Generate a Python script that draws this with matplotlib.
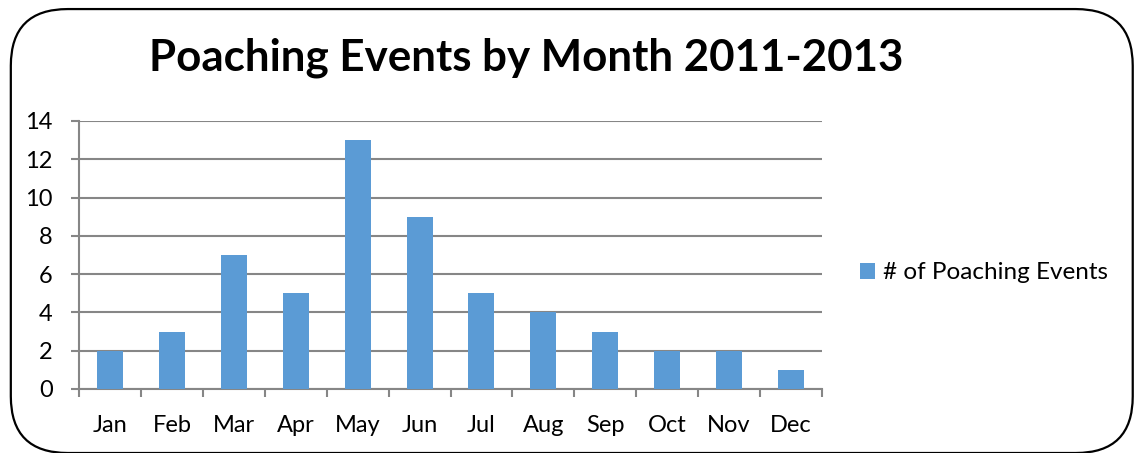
import matplotlib.pyplot as plt
from matplotlib.patches import FancyBboxPatch
import numpy as np

# data
months = ["Jan", "Feb", "Mar", "Apr", "May", "Jun",
          "Jul", "Aug", "Sep", "Oct", "Nov", "Dec"]
events = [2, 3, 7, 5, 13, 9, 5, 4, 3, 2, 2, 1]
y_ticks = [0, 2, 4, 6, 8, 10, 12, 14]

BAR_COLOR = "#5B9BD5"
GRID_COLOR = "#868686"

plt.rcParams["font.family"] = ["Lato", "DejaVu Sans"]

fig = plt.figure(figsize=(11.39, 4.53), dpi=100)

# rounded chart-area border
border = FancyBboxPatch((0.0095, 0.0), 0.985, 0.98,
                        boxstyle="round,pad=0,rounding_size=0.05",
                        transform=fig.transFigure, fill=False,
                        edgecolor="black", linewidth=1.6, mutation_aspect=2.5)
fig.patches.append(border)

ax = fig.add_axes([0.0694, 0.1413, 0.6523, 0.5916])
x = np.arange(len(months))
ax.bar(x, events, width=0.42, color=BAR_COLOR, label="# of Poaching Events", zorder=3)

ax.set_xlim(-0.5, len(months) - 0.5)
ax.set_ylim(0, 14)
ax.set_yticks(y_ticks)
ax.set_xticks(x)
ax.set_xticklabels(months)
ax.set_xticks(np.arange(-0.5, len(months), 1.0), minor=True)

ax.grid(axis="y", color=GRID_COLOR, linewidth=1.5, zorder=0)
for side in ["top", "right"]:
    ax.spines[side].set_visible(False)
for side in ["left", "bottom"]:
    ax.spines[side].set_color(GRID_COLOR)
    ax.spines[side].set_linewidth(1.5)

ax.tick_params(axis="y", length=6, width=1.5, color=GRID_COLOR, pad=13, labelsize=17)
ax.tick_params(axis="x", which="major", length=0, pad=19, labelsize=17)
ax.tick_params(axis="x", which="minor", length=6, width=1.5, color=GRID_COLOR)

fig.text(0.4623, 0.872, "Poaching Events by Month 2011-2013", ha="center", va="center",
         fontsize=31.6, fontweight="bold")

ax.legend(loc="center left", bbox_to_anchor=(1.022, 0.433), frameon=False,
          fontsize=17.5, handlelength=0.6, handleheight=0.6, handletextpad=0.35)

fig.savefig("out.png", dpi=100)
